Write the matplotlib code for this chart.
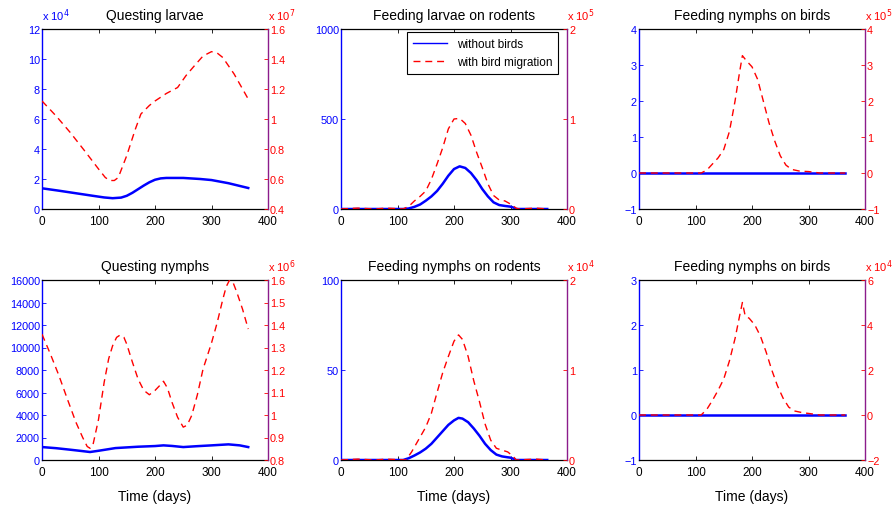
import matplotlib
matplotlib.use("Agg")
import matplotlib.pyplot as plt

plt.rcParams['font.family'] = ['Liberation Sans', 'DejaVu Sans']

BLUE = '#0000FF'
RED = '#FF0000'
PURPLE = '#8B1C8B'

# ---------------- data ----------------
# Panel 1: Questing larvae (left x1e4, right x1e7)
ql_t_b = [0, 30, 60, 90, 110, 125, 140, 150, 160, 170, 180, 190, 200, 210, 220, 250, 280, 300, 330, 365]
ql_b = [1.38, 1.22, 1.05, 0.88, 0.77, 0.72, 0.76, 0.88, 1.08, 1.32, 1.56, 1.78, 1.95, 2.04, 2.07, 2.07, 2.0, 1.93, 1.72, 1.4]
ql_t_r = [0, 25, 50, 75, 100, 112, 120, 128, 135, 150, 165, 175, 190, 200, 220, 240, 255, 270, 285, 300, 310, 320, 340, 365]
ql_r = [1.12, 1.02, 0.91, 0.79, 0.667, 0.61, 0.59, 0.59, 0.61, 0.756, 0.93, 1.033, 1.09, 1.12, 1.17, 1.21, 1.29, 1.356, 1.42, 1.449, 1.44, 1.41, 1.3, 1.133]

# Panel 2: Feeding larvae on rodents (left plain, right x1e5)
flr_t_b = [0, 50, 100, 110, 120, 130, 140, 150, 160, 170, 180, 190, 200, 210, 220, 230, 240, 250, 260, 270, 280, 290, 300, 305, 310, 365]
flr_b = [0, 0, 0, 0, 3, 12, 25, 46, 70, 100, 140, 185, 222, 237, 228, 200, 160, 111, 70, 37, 22, 17, 13, 8, 0, 0]
flr_t_r = [0, 30, 60, 80, 110, 120, 130, 140, 150, 160, 170, 180, 190, 200, 210, 220, 230, 240, 250, 260, 270, 280, 290, 300, 310, 315, 345, 365]
flr_r = [0, 0.01, 0, 0.01, 0, 0.03, 0.09, 0.14, 0.2, 0.33, 0.5, 0.68, 0.89, 1.0, 1.007, 0.95, 0.82, 0.63, 0.46, 0.28, 0.15, 0.1, 0.09, 0.055, 0.01, 0, 0.01, 0]

# Panel 3: Feeding nymphs on birds, top (left plain, right x1e5)
fnb1_t_b = [0, 365]
fnb1_b = [0, 0]
fnb1_t_r = [0, 110, 120, 130, 140, 150, 160, 170, 178, 183, 190, 200, 210, 220, 230, 240, 250, 260, 270, 285, 300, 320, 365]
fnb1_r = [0, 0, 0.08, 0.25, 0.42, 0.65, 1.15, 2.0, 2.8, 3.26, 3.12, 2.95, 2.6, 2.0, 1.4, 0.9, 0.48, 0.22, 0.1, 0.05, 0.04, 0, 0]

# Panel 4: Questing nymphs (left plain, right x1e6)
qn_t_b = [0, 25, 50, 70, 85, 100, 130, 170, 200, 215, 230, 250, 275, 300, 330, 350, 365]
qn_b = [1150, 1050, 915, 800, 710, 820, 1060, 1180, 1240, 1300, 1250, 1150, 1230, 1300, 1390, 1300, 1150]
qn_t_r = [0, 15, 30, 45, 60, 72, 80, 85, 90, 100, 110, 118, 125, 132, 138, 145, 150, 160, 170, 180, 190, 200, 208, 215, 222, 230, 240, 250, 257, 265, 275, 285, 300, 310, 320, 326, 332, 338, 345, 355, 365]
qn_r = [1.359, 1.27, 1.175, 1.07, 0.968, 0.9, 0.86, 0.852, 0.865, 0.98, 1.145, 1.25, 1.308, 1.345, 1.355, 1.345, 1.315, 1.235, 1.16, 1.11, 1.09, 1.109, 1.13, 1.15, 1.12, 1.057, 0.99, 0.946, 0.955, 0.998, 1.09, 1.204, 1.32, 1.41, 1.514, 1.57, 1.6, 1.59, 1.544, 1.47, 1.382]

# Panel 5: Feeding nymphs on rodents (left plain, right x1e4)
fnr_t_b = [0, 50, 110, 120, 130, 140, 150, 160, 170, 180, 190, 200, 208, 215, 225, 235, 245, 255, 265, 275, 285, 295, 300, 310, 365]
fnr_b = [0, 0, 0, 1, 2.5, 4.2, 6.3, 9, 12.5, 16, 19.5, 22, 23.4, 23, 21, 17.5, 13.5, 9, 5.5, 3, 2, 1.5, 1.3, 0, 0]
fnr_t_r = [0, 30, 60, 80, 115, 125, 135, 150, 160, 170, 180, 190, 200, 208, 215, 225, 235, 245, 255, 265, 275, 285, 295, 305, 310, 345, 365]
fnr_r = [0, 0.01, 0, 0.01, 0, 0.09, 0.2, 0.365, 0.52, 0.75, 0.97, 1.15, 1.32, 1.39, 1.34, 1.15, 0.88, 0.65, 0.4, 0.22, 0.13, 0.11, 0.09, 0.04, 0, 0.01, 0]

# Panel 6: Feeding nymphs on birds, bottom (left plain, right x1e4)
fnb2_t_b = [0, 365]
fnb2_b = [0, 0]
fnb2_t_r = [0, 110, 120, 130, 140, 150, 160, 170, 178, 183, 188, 195, 205, 215, 225, 235, 245, 255, 265, 275, 290, 300, 320, 365]
fnb2_r = [0, 0, 0.25, 0.65, 1.1, 1.6, 2.4, 3.4, 4.4, 5.0, 4.4, 4.3, 4.0, 3.5, 2.8, 2.0, 1.3, 0.75, 0.35, 0.18, 0.1, 0.07, 0, 0]

titles = ['Questing larvae', 'Feeding larvae on rodents', 'Feeding nymphs on birds',
          'Questing nymphs', 'Feeding nymphs on rodents', 'Feeding nymphs on birds']

panels = [
    dict(tb=ql_t_b, b=ql_b, tr=ql_t_r, r=ql_r, lylim=(0, 12), lyt=[0, 2, 4, 6, 8, 10, 12],
         lyl=['0', '2', '4', '6', '8', '10', '12'], loff='4',
         rylim=(0.4, 1.6), ryt=[0.4, 0.6, 0.8, 1.0, 1.2, 1.4, 1.6],
         ryl=['0.4', '0.6', '0.8', '1', '1.2', '1.4', '1.6'], roff='7'),
    dict(tb=flr_t_b, b=flr_b, tr=flr_t_r, r=flr_r, lylim=(0, 1000), lyt=[0, 500, 1000],
         lyl=['0', '500', '1000'], loff=None,
         rylim=(0, 2), ryt=[0, 1, 2], ryl=['0', '1', '2'], roff='5'),
    dict(tb=fnb1_t_b, b=fnb1_b, tr=fnb1_t_r, r=fnb1_r, lylim=(-1, 4), lyt=[-1, 0, 1, 2, 3, 4],
         lyl=['\u22121', '0', '1', '2', '3', '4'], loff=None,
         rylim=(-1, 4), ryt=[-1, 0, 1, 2, 3, 4], ryl=['\u22121', '0', '1', '2', '3', '4'], roff='5'),
    dict(tb=qn_t_b, b=qn_b, tr=qn_t_r, r=qn_r, lylim=(0, 16000),
         lyt=[0, 2000, 4000, 6000, 8000, 10000, 12000, 14000, 16000],
         lyl=['0', '2000', '4000', '6000', '8000', '10000', '12000', '14000', '16000'], loff=None,
         rylim=(0.8, 1.6), ryt=[0.8, 0.9, 1.0, 1.1, 1.2, 1.3, 1.4, 1.5, 1.6],
         ryl=['0.8', '0.9', '1', '1.1', '1.2', '1.3', '1.4', '1.5', '1.6'], roff='6'),
    dict(tb=fnr_t_b, b=fnr_b, tr=fnr_t_r, r=fnr_r, lylim=(0, 100), lyt=[0, 50, 100],
         lyl=['0', '50', '100'], loff=None,
         rylim=(0, 2), ryt=[0, 1, 2], ryl=['0', '1', '2'], roff='4'),
    dict(tb=fnb2_t_b, b=fnb2_b, tr=fnb2_t_r, r=fnb2_r, lylim=(-1, 3), lyt=[-1, 0, 1, 2, 3],
         lyl=['\u22121', '0', '1', '2', '3'], loff=None,
         rylim=(-2, 6), ryt=[-2, 0, 2, 4, 6], ryl=['\u22122', '0', '2', '4', '6'], roff='4'),
]

xticks = [0, 100, 200, 300, 400]

fig = plt.figure(figsize=(8.96, 5.10), dpi=100)
lefts = [42 / 896, 341 / 896, 639 / 896]
bottoms = [1 - 210 / 510, 1 - 461 / 510]
w = 226 / 896
h = 180 / 510

FSX = 8.5
FSY = 7.8
for i, p in enumerate(panels):
    row, col = divmod(i, 3)
    ax = fig.add_axes([lefts[col], bottoms[row], w, h])
    ax2 = ax.twinx()
    l1, = ax.plot(p['tb'], p['b'], color=BLUE, lw=1.8, label='without birds', zorder=3)
    l2, = ax2.plot(p['tr'], p['r'], color=RED, lw=1.0, ls=(0, (5, 3.5)), label='with bird migration')
    ax.set_xlim(0, 400)
    ax.set_ylim(*p['lylim'])
    ax2.set_ylim(*p['rylim'])
    ax.set_xticks(xticks)
    ax.set_xticklabels([str(x) for x in xticks], fontsize=FSX, color='black')
    ax.set_yticks(p['lyt'])
    ax.set_yticklabels(p['lyl'], fontsize=FSY, color=BLUE)
    ax2.set_yticks(p['ryt'])
    ax2.set_yticklabels(p['ryl'], fontsize=FSY, color=RED)
    ax.tick_params(axis='x', direction='in', length=3, top=True, width=0.6, pad=4.5, colors='black')
    ax.tick_params(axis='y', direction='in', length=3, width=0.6, pad=1.5, colors=BLUE)
    ax2.tick_params(axis='y', direction='in', length=3, width=0.6, pad=1.5, colors=RED)
    for s in ['top', 'bottom']:
        ax.spines[s].set_color('black')
        ax.spines[s].set_linewidth(0.9)
    ax.spines['left'].set_color(BLUE)
    ax.spines['left'].set_linewidth(1.0)
    ax.spines['right'].set_visible(False)
    ax2.spines['right'].set_color(PURPLE)
    ax2.spines['right'].set_linewidth(1.0)
    ax2.spines['left'].set_visible(False)
    ax2.spines['top'].set_visible(False)
    ax2.spines['bottom'].set_visible(False)
    ax.set_title(titles[i], fontsize=10, pad=7.5)
    if p['loff']:
        ax.text(0.0, 1.035, r'x 10$^{%s}$' % p['loff'], transform=ax.transAxes,
                color=BLUE, fontsize=8, ha='left', va='bottom')
    if p['roff']:
        ax2.text(1.0, 1.035, r'x 10$^{%s}$' % p['roff'], transform=ax2.transAxes,
                 color=RED, fontsize=8, ha='left', va='bottom')
    if row == 1:
        ax.set_xlabel('Time (days)', fontsize=10, labelpad=7.5)
    if i == 1:
        leg = ax2.legend([l1, l2], ['without birds', 'with bird migration'],
                         loc='upper right', fontsize=8.5, fancybox=False, framealpha=1,
                         edgecolor='black', borderpad=0.5, handlelength=2.9,
                         borderaxespad=0, labelspacing=0.55,
                         bbox_to_anchor=(0.96, 0.983))
        leg.get_frame().set_linewidth(0.8)
        for ln in leg.get_lines():
            ln.set_linewidth(1.0)

fig.savefig('out.png', dpi=100)
